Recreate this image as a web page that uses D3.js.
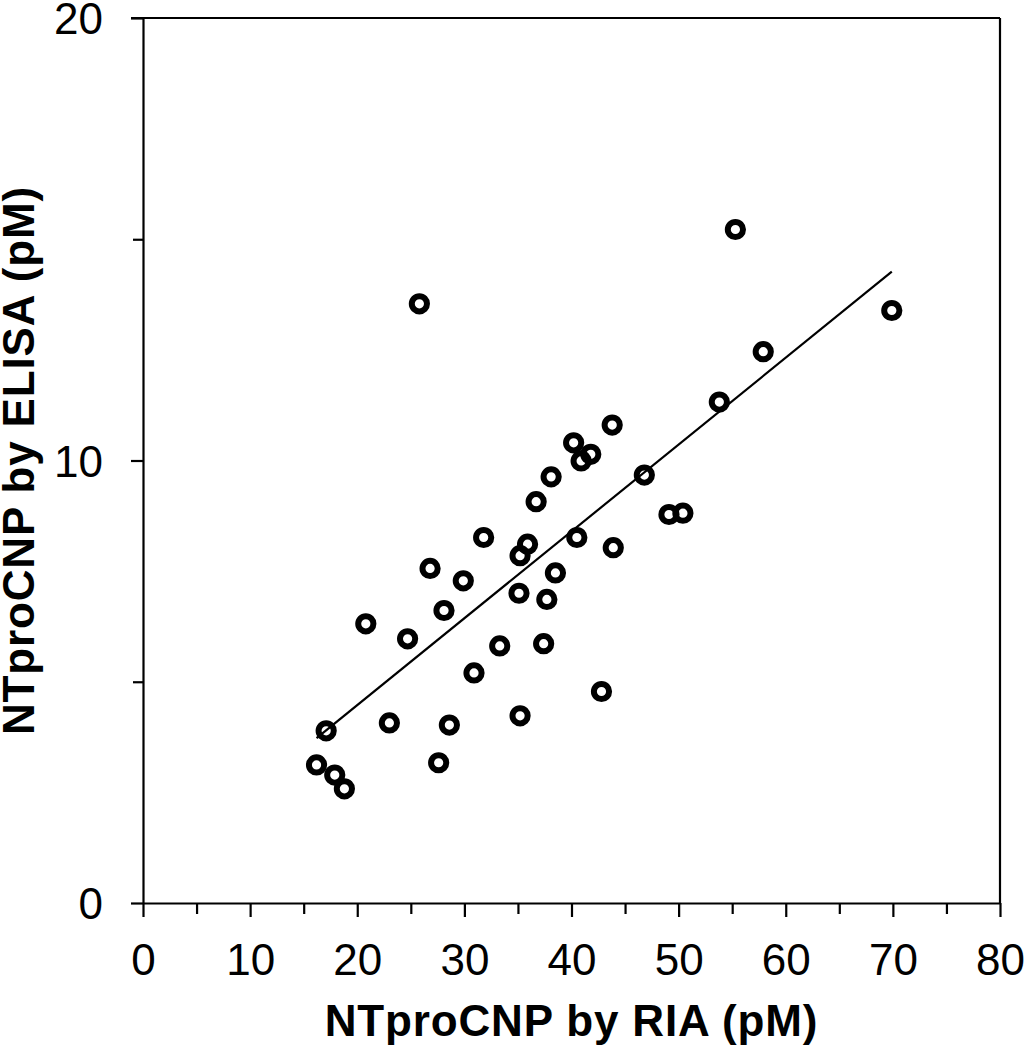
<!DOCTYPE html>
<html>
<head>
<meta charset="utf-8">
<script src="https://cdn.jsdelivr.net/npm/d3@7"></script>
<style>
  body { margin: 0; background: #fff; }
  svg { display: block; font-family: "Liberation Sans", Arial, sans-serif; }
</style>
</head>
<body>
<div id="chart"></div>
<script>
// values
var riaValues = [16.2, 17.9, 18.8, 17.1, 20.8, 23.0, 24.7, 25.8, 26.8, 28.1,
                 27.6, 28.6, 29.9, 30.9, 31.8, 33.3, 35.1, 35.2, 35.9, 35.2,
                 36.7, 37.4, 37.7, 38.1, 38.5, 40.2, 40.5, 40.9, 41.8, 42.8,
                 43.8, 43.9, 46.8, 49.1, 50.4, 53.8, 55.3, 57.9, 69.9];
var elisaValues = [3.12, 2.89, 2.58, 3.89, 6.31, 4.07, 5.97, 13.54, 7.56, 6.61,
                   3.17, 4.02, 7.28, 5.20, 8.26, 5.81, 7.00, 7.85, 8.11, 4.23,
                   9.07, 5.86, 6.86, 9.63, 7.46, 10.40, 8.26, 9.99, 10.14, 4.78,
                   10.80, 8.03, 9.67, 8.78, 8.81, 11.32, 15.22, 12.46, 13.39];
var fitLine = { slope: 0.1963, intercept: 0.546 };
var xTicks = [0, 10, 20, 30, 40, 50, 60, 70, 80];
var xMinorTicks = [5, 15, 25, 35, 45, 55, 65, 75];
var yTicks = [0, 10, 20];
var yMinorTicks = [5, 15];

var width = 1024, height = 1050,
    margin = {top: 18, right: 24, bottom: 147, left: 143},
    plotW = width - margin.left - margin.right,
    plotH = height - margin.top - margin.bottom;

var svg = d3.select("#chart").append("svg")
  .attr("width", width)
  .attr("height", height);

var g = svg.append("g")
  .attr("transform", "translate(" + margin.left + "," + margin.top + ")");

var x = d3.scaleLinear().domain([0, 80]).range([0, plotW]);
var y = d3.scaleLinear().domain([0, 20]).range([plotH, 0]);

// frame on top and right
g.append("line")
  .attr("x1", x(0) - 12).attr("x2", x(80))
  .attr("y1", y(20)).attr("y2", y(20))
  .attr("stroke", "#000").attr("stroke-width", 2.2);
g.append("line")
  .attr("x1", x(80)).attr("x2", x(80))
  .attr("y1", y(20)).attr("y2", y(0))
  .attr("stroke", "#000").attr("stroke-width", 2.2);

// x axis
g.append("g")
  .attr("transform", "translate(0," + plotH + ")")
  .call(d3.axisBottom(x).tickValues(xTicks).tickSize(14).tickSizeOuter(0).tickPadding(27));
g.append("g")
  .attr("transform", "translate(0," + plotH + ")")
  .call(d3.axisBottom(x).tickValues(xMinorTicks).tickSize(11).tickSizeOuter(0).tickFormat(""))
  .select(".domain").remove();

// y axis
g.append("g")
  .call(d3.axisLeft(y).tickValues(yTicks).tickSize(12).tickSizeOuter(0).tickPadding(28))
  .selectAll(".tick text").attr("dy", "0.36em");
g.append("g")
  .call(d3.axisLeft(y).tickValues(yMinorTicks).tickSize(10).tickSizeOuter(0).tickFormat(""))
  .select(".domain").remove();

g.selectAll(".domain, .tick line")
  .attr("stroke", "#000")
  .attr("stroke-width", 2.2);
g.selectAll(".tick text")
  .attr("font-family", "'Liberation Sans', Arial, sans-serif")
  .attr("font-size", "44px")
  .attr("fill", "#000");

// regression line over the data range
var xr = d3.extent(riaValues);
g.append("line")
  .attr("x1", x(xr[0])).attr("y1", y(fitLine.intercept + fitLine.slope * xr[0]))
  .attr("x2", x(xr[1])).attr("y2", y(fitLine.intercept + fitLine.slope * xr[1]))
  .attr("stroke", "#000")
  .attr("stroke-width", 2.2);

// points
g.selectAll("circle.pt")
  .data(riaValues)
  .enter()
  .append("circle")
  .attr("class", "pt")
  .attr("cx", function(d) { return x(d); })
  .attr("cy", function(d, i) { return y(elisaValues[i]); })
  .attr("r", 7.6)
  .attr("fill", "none")
  .attr("stroke", "#000")
  .attr("stroke-width", 6);

// axis titles
svg.append("text")
  .text("NTproCNP by RIA (pM)")
  .attr("x", margin.left + plotW / 2)
  .attr("y", 1036)
  .attr("font-size", "44px")
  .attr("font-weight", "bold")
  .style("letter-spacing", "0.85px")
  .style("text-anchor", "middle");

svg.append("text")
  .text("NTproCNP by ELISA (pM)")
  .attr("transform", "translate(34," + (margin.top + plotH / 2) + ") rotate(-90)")
  .attr("font-size", "44px")
  .attr("font-weight", "bold")
  .style("letter-spacing", "0.85px")
  .style("text-anchor", "middle");
</script>
</body>
</html>
